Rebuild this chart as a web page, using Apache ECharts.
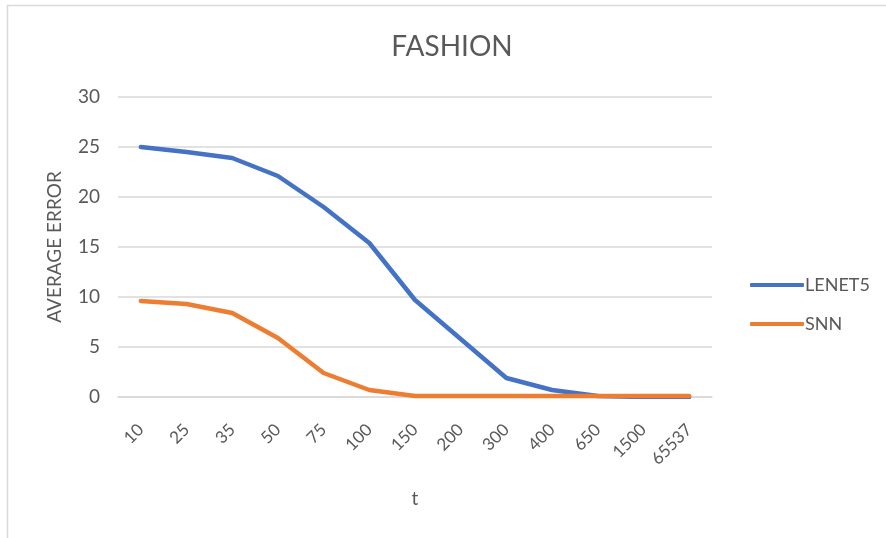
<!DOCTYPE html>
<html>
<head>
<meta charset="utf-8">
<script src="https://cdn.jsdelivr.net/npm/echarts@6/dist/echarts.min.js"></script>
<style>
  html, body { margin: 0; padding: 0; background: #fff; }
  #chart { width: 886px; height: 538px; }
</style>
</head>
<body>
<div id="chart"></div>
<script>
// t values along the x axis
const categories = ['10', '25', '35', '50', '75', '100', '150', '200', '300', '400', '650', '1500', '65537'];
// average error per t
const lenet5 = [25.0, 24.5, 23.9, 22.1, 19.0, 15.4, 9.7, 5.8, 1.9, 0.7, 0.1, 0.0, 0.0];
const snn = [9.6, 9.3, 8.4, 5.9, 2.4, 0.7, 0.1, 0.1, 0.1, 0.1, 0.1, 0.1, 0.1];
const yTicks = { min: 0, max: 30, interval: 5 };

const FONT = 'Lato, "Open Sans", sans-serif';
const TEXT = '#595959';

const chart = echarts.init(document.getElementById('chart'), null, { renderer: 'canvas' });
chart.setOption({
  backgroundColor: '#fff',
  animation: false,
  graphic: [{
    type: 'rect',
    shape: { x: 7.5, y: 5.5, width: 900, height: 560 },
    style: { fill: 'none', stroke: '#d9d9d9', lineWidth: 1.5 },
    silent: true
  }],
  title: {
    text: 'FASHION',
    left: 447, top: 28, textAlign: 'center',
    textStyle: { fontFamily: FONT, fontSize: 28, fontWeight: 'normal', color: TEXT }
  },
  legend: {
    orient: 'vertical',
    left: 745, top: 271,
    itemGap: 21,
    itemWidth: 54, itemHeight: 4,
    icon: 'roundRect',
    textStyle: { fontFamily: FONT, fontSize: 18, color: TEXT, padding: [0, 0, 0, -4] },
    data: ['LENET5', 'SNN']
  },
  grid: { left: 118, right: 174, top: 97, bottom: 141, containLabel: false },
  xAxis: {
    type: 'category',
    data: categories,
    boundaryGap: true,
    name: 't',
    nameLocation: 'middle',
    nameGap: 92,
    nameTextStyle: { fontFamily: FONT, fontSize: 19, color: TEXT },
    axisLine: { show: true, lineStyle: { color: '#d9d9d9', width: 1.5 } },
    axisTick: { show: false },
    axisLabel: { rotate: 45, margin: 30, fontFamily: FONT, fontSize: 17, color: TEXT, interval: 0 }
  },
  yAxis: {
    type: 'value',
    min: yTicks.min, max: yTicks.max, interval: yTicks.interval,
    name: 'AVERAGE ERROR',
    nameLocation: 'middle',
    nameGap: 54,
    nameTextStyle: { fontFamily: FONT, fontSize: 19, color: TEXT },
    axisLine: { show: false },
    axisTick: { show: false },
    axisLabel: { margin: 18, fontFamily: FONT, fontSize: 19, color: TEXT },
    splitLine: { lineStyle: { color: '#d9d9d9', width: 1.5 } }
  },
  series: [
    {
      name: 'LENET5', type: 'line', data: lenet5,
      symbol: 'none', smooth: false,
      lineStyle: { color: '#4472c4', width: 4.5, cap: 'round', join: 'round' },
      itemStyle: { color: '#4472c4' }
    },
    {
      name: 'SNN', type: 'line', data: snn,
      symbol: 'none', smooth: false,
      lineStyle: { color: '#ed7d31', width: 4.5, cap: 'round', join: 'round' },
      itemStyle: { color: '#ed7d31' }
    }
  ]
});
</script>
</body>
</html>
